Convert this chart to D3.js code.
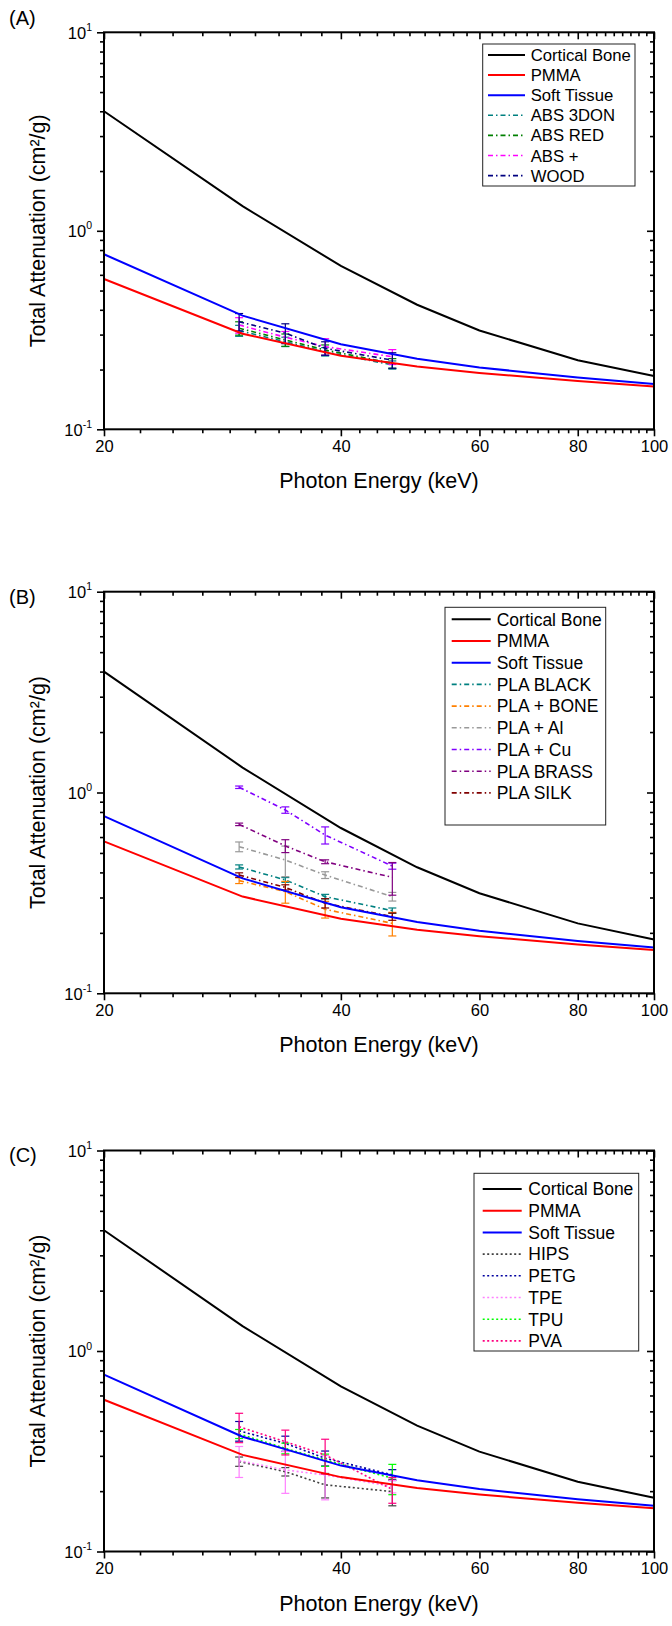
<!DOCTYPE html>
<html>
<head>
<meta charset="utf-8">
<script src="https://cdn.jsdelivr.net/npm/d3@7"></script>
<style>
  body { margin: 0; background: #fff; }
  text { font-family: "Liberation Sans", Arial, Helvetica, sans-serif; fill: #000; }
</style>
</head>
<body>
<svg width="672" height="1626"></svg>
<script>
// reference curves (NIST style, cm2/g)
var energyRef = [20, 30, 40, 50, 60, 80, 100];
var corticalBone = [4.001, 1.331, 0.6655, 0.4242, 0.3148, 0.2229, 0.1855];
var pmma = [0.5714, 0.3032, 0.2350, 0.2074, 0.1924, 0.1751, 0.1641];
var softTissue = [0.762, 0.3737, 0.2682, 0.2264, 0.2048, 0.1823, 0.1693];

// measured energies (keV)
var energyMeas = [29.7, 34.0, 38.2, 46.5];

// (A) ABS family
var abs3don = [0.314, 0.276, 0.246, 0.211];
var abs3donErr = [0.02, 0.015, 0.012, 0.01];
var absRed = [0.323, 0.282, 0.251, 0.215];
var absRedErr = [0.025, 0.02, 0.015, 0.012];
var absPlus = [0.335, 0.291, 0.261, 0.232];
var absPlusErr = [0.03, 0.02, 0.025, 0.02];
var wood = [0.348, 0.305, 0.256, 0.223];
var woodErr = [0.035, 0.035, 0.02, 0.02];

// (B) PLA family
var plaBlack = [0.426, 0.367, 0.303, 0.258];
var plaBlackErr = [0.01, 0.01, 0.008, 0.008];
var plaBone = [0.364, 0.321, 0.262, 0.223];
var plaBoneErr = [0.012, 0.04, 0.025, 0.03];
var plaAl = [0.537, 0.461, 0.388, 0.303];
var plaAlErr = [0.03, 0.08, 0.015, 0.015];
var plaCu = [1.062, 0.818, 0.614, 0.43];
var plaCuErr = [0.015, 0.03, 0.06, 0.015];
var plaBrass = [0.694, 0.542, 0.452, 0.378];
var plaBrassErr = [0.01, 0.04, 0.01, 0.07];
var plaSilk = [0.388, 0.337, 0.281, 0.241];
var plaSilkErr = [0.01, 0.01, 0.015, 0.01];

// (C) other filaments
var hips = [0.281, 0.25, 0.215, 0.199];
var hipsErr = [0.015, 0.012, 0.03, 0.03];
var petg = [0.4, 0.346, 0.292, 0.241];
var petgErr = [0.045, 0.03, 0.025, 0.015];
var tpe = [0.284, 0.255, 0.241, 0.211];
var tpeErr = [0.05, 0.06, 0.06, 0.015];
var tpu = [0.386, 0.327, 0.286, 0.232];
var tpuErr = [0.02, 0.02, 0.02, 0.04];
var pva = [0.419, 0.353, 0.303, 0.204];
var pvaErr = [0.07, 0.05, 0.06, 0.03];

var xMajor = [20, 40, 60, 80, 100];
var yMajor = [0.1, 1, 10];
var yExp = ["-1", "0", "1"];

var svg = d3.select("svg");
var left = 104, right = 654;

var dashDot = "5,3,1.5,3";
var dotted = "2,2.5";

var refSeries = [
  { name: "Cortical Bone", values: corticalBone, color: "#000000" },
  { name: "PMMA", values: pmma, color: "#ff0000" },
  { name: "Soft Tissue", values: softTissue, color: "#0000ff" }
];

var panels = [
  {
    label: "(A)", top: 32.3, height: 397, labelY: 25,
    legend: { x: 482.7, y: 44, w: 152.3, h: 142, row0: 55, dy: 20.1, lx0: 488, lx1: 525, tx: 530.7, fs: 16.7 },
    series: [
      { name: "ABS 3DON", values: abs3don, err: abs3donErr, color: "#008080", dash: dashDot },
      { name: "ABS RED", values: absRed, err: absRedErr, color: "#008000", dash: dashDot },
      { name: "ABS +", values: absPlus, err: absPlusErr, color: "#ff00ff", dash: dashDot },
      { name: "WOOD", values: wood, err: woodErr, color: "#000080", dash: dashDot }
    ]
  },
  {
    label: "(B)", top: 591.7, height: 401.6, labelY: 604,
    legend: { x: 445, y: 607.3, w: 160.7, h: 217.7, row0: 619.3, dy: 21.7, lx0: 451.7, lx1: 490.7, tx: 496.7, fs: 17.5 },
    series: [
      { name: "PLA BLACK", values: plaBlack, err: plaBlackErr, color: "#008080", dash: dashDot },
      { name: "PLA + BONE", values: plaBone, err: plaBoneErr, color: "#ff8000", dash: dashDot },
      { name: "PLA + Al", values: plaAl, err: plaAlErr, color: "#999999", dash: dashDot },
      { name: "PLA + Cu", values: plaCu, err: plaCuErr, color: "#8000ff", dash: dashDot },
      { name: "PLA BRASS", values: plaBrass, err: plaBrassErr, color: "#800080", dash: dashDot },
      { name: "PLA SILK", values: plaSilk, err: plaSilkErr, color: "#800000", dash: dashDot }
    ]
  },
  {
    label: "(C)", top: 1150.5, height: 401, labelY: 1162,
    legend: { x: 474, y: 1173.3, w: 164.7, h: 177.7, row0: 1189, dy: 21.7, lx0: 482.7, lx1: 521.7, tx: 528.3, fs: 17.5 },
    series: [
      { name: "HIPS", values: hips, err: hipsErr, color: "#404040", dash: dotted },
      { name: "PETG", values: petg, err: petgErr, color: "#0000a0", dash: dotted },
      { name: "TPE", values: tpe, err: tpeErr, color: "#ff80ff", dash: dotted },
      { name: "TPU", values: tpu, err: tpuErr, color: "#00ff00", dash: dotted },
      { name: "PVA", values: pva, err: pvaErr, color: "#ff0080", dash: dotted }
    ]
  }
];

// minor ticks: 8 evenly spaced between linear majors (x), 2..9 per decade (y)
var xMinor = [];
for (var i = 0; i < xMajor.length - 1; i++) {
  for (var k = 1; k <= 8; k++) xMinor.push(xMajor[i] + k * (xMajor[i + 1] - xMajor[i]) / 9);
}
var yMinor = [];
[0.1, 1].forEach(function (d) {
  for (var k = 2; k <= 9; k++) yMinor.push(d * k);
});

panels.forEach(function (p) {
  var bottom = p.top + p.height;
  var x = d3.scaleLog().domain([20, 100]).range([left, right]);
  var y = d3.scaleLog().domain([0.1, 10]).range([bottom, p.top]);
  var g = svg.append("g");

  // axes: outward on bottom/left, inward mirrors on top/right
  function axisGroup(axis, tf) {
    var a = g.append("g").attr("transform", tf).call(axis);
    a.select(".domain").remove();
    a.selectAll(".tick line").attr("stroke", "#000").attr("stroke-width", 1.6);
    return a;
  }
  var xb = axisGroup(d3.axisBottom(x).tickValues(xMajor).tickFormat(d3.format("d")).tickSize(7).tickPadding(4), "translate(0," + bottom + ")");
  xb.selectAll(".tick text").attr("font-size", 16.5).attr("font-family", "Liberation Sans, Arial, sans-serif");
  axisGroup(d3.axisBottom(x).tickValues(xMinor).tickFormat("").tickSize(4), "translate(0," + bottom + ")");
  axisGroup(d3.axisTop(x).tickValues(xMajor).tickFormat("").tickSize(-7), "translate(0," + p.top + ")");
  axisGroup(d3.axisTop(x).tickValues(xMinor).tickFormat("").tickSize(-4), "translate(0," + p.top + ")");

  var yl = axisGroup(d3.axisLeft(y).tickValues(yMajor).tickFormat("").tickSize(7).tickPadding(4), "translate(" + left + ",0)");
  yl.selectAll(".tick text").each(function (d, i) {
    var t = d3.select(this)
      .attr("font-size", 16.5)
      .attr("font-family", "Liberation Sans, Arial, sans-serif")
      .attr("dy", "0.36em")
      .attr("x", -12);
    t.append("tspan").text("10");
    t.append("tspan").attr("font-size", 10.5).attr("dy", "-0.75em").text(yExp[i]);
  });
  axisGroup(d3.axisLeft(y).tickValues(yMinor).tickFormat("").tickSize(4), "translate(" + left + ",0)");
  axisGroup(d3.axisRight(y).tickValues(yMajor).tickFormat("").tickSize(-7), "translate(" + right + ",0)");
  axisGroup(d3.axisRight(y).tickValues(yMinor).tickFormat("").tickSize(-4), "translate(" + right + ",0)");

  var line = d3.line()
    .x(function (d) { return x(d[0]); })
    .y(function (d) { return y(d[1]); });

  // measured series with error bars
  p.series.forEach(function (s) {
    var pts = energyMeas.map(function (e, j) { return [e, s.values[j], s.err[j]]; });
    g.append("path")
      .attr("d", line(pts))
      .attr("fill", "none")
      .attr("stroke", s.color)
      .attr("stroke-width", 1.6)
      .attr("stroke-dasharray", s.dash);
    var eb = g.append("g").attr("stroke", s.color).attr("stroke-width", 1.2);
    pts.forEach(function (d) {
      var cx = x(d[0]), y0 = y(d[1] + d[2]), y1 = y(d[1] - d[2]);
      eb.append("line").attr("x1", cx).attr("x2", cx).attr("y1", y0).attr("y2", y1);
      eb.append("line").attr("x1", cx - 4).attr("x2", cx + 4).attr("y1", y0).attr("y2", y0);
      eb.append("line").attr("x1", cx - 4).attr("x2", cx + 4).attr("y1", y1).attr("y2", y1);
    });
  });

  // reference curves
  refSeries.forEach(function (s) {
    var pts = energyRef.map(function (e, j) { return [e, s.values[j]]; });
    g.append("path")
      .attr("d", line(pts))
      .attr("fill", "none")
      .attr("stroke", s.color)
      .attr("stroke-width", 2);
  });

  // frame
  g.append("rect")
    .attr("x", left).attr("y", p.top)
    .attr("width", right - left).attr("height", p.height)
    .attr("fill", "none").attr("stroke", "#000").attr("stroke-width", 2);

  // legend
  var L = p.legend;
  var lg = g.append("g");
  lg.append("rect")
    .attr("x", L.x).attr("y", L.y).attr("width", L.w).attr("height", L.h)
    .attr("fill", "#fff").attr("stroke", "#222").attr("stroke-width", 1);
  var entries = refSeries.map(function (s) { return { name: s.name, color: s.color, dash: null, w: 2 }; })
    .concat(p.series.map(function (s) { return { name: s.name, color: s.color, dash: s.dash, w: 1.6 }; }));
  entries.forEach(function (e, j) {
    var yy = L.row0 + j * L.dy;
    lg.append("line")
      .attr("x1", L.lx0).attr("x2", L.lx1).attr("y1", yy).attr("y2", yy)
      .attr("stroke", e.color).attr("stroke-width", e.w)
      .attr("stroke-dasharray", e.dash);
    lg.append("text")
      .attr("x", L.tx).attr("y", yy).attr("dy", "0.36em")
      .attr("font-size", L.fs)
      .text(e.name);
  });

  // titles
  g.append("text")
    .attr("x", (left + right) / 2).attr("y", bottom + 59)
    .attr("text-anchor", "middle")
    .attr("font-size", 21.5)
    .text("Photon Energy (keV)");
  g.append("text")
    .attr("transform", "translate(45," + (p.top + p.height / 2) + ") rotate(-90)")
    .attr("text-anchor", "middle")
    .attr("font-size", 21.5)
    .text("Total Attenuation (cm²/g)");
  g.append("text")
    .attr("x", 9).attr("y", p.labelY)
    .attr("font-size", 20)
    .text(p.label);
});
</script>
</body>
</html>
